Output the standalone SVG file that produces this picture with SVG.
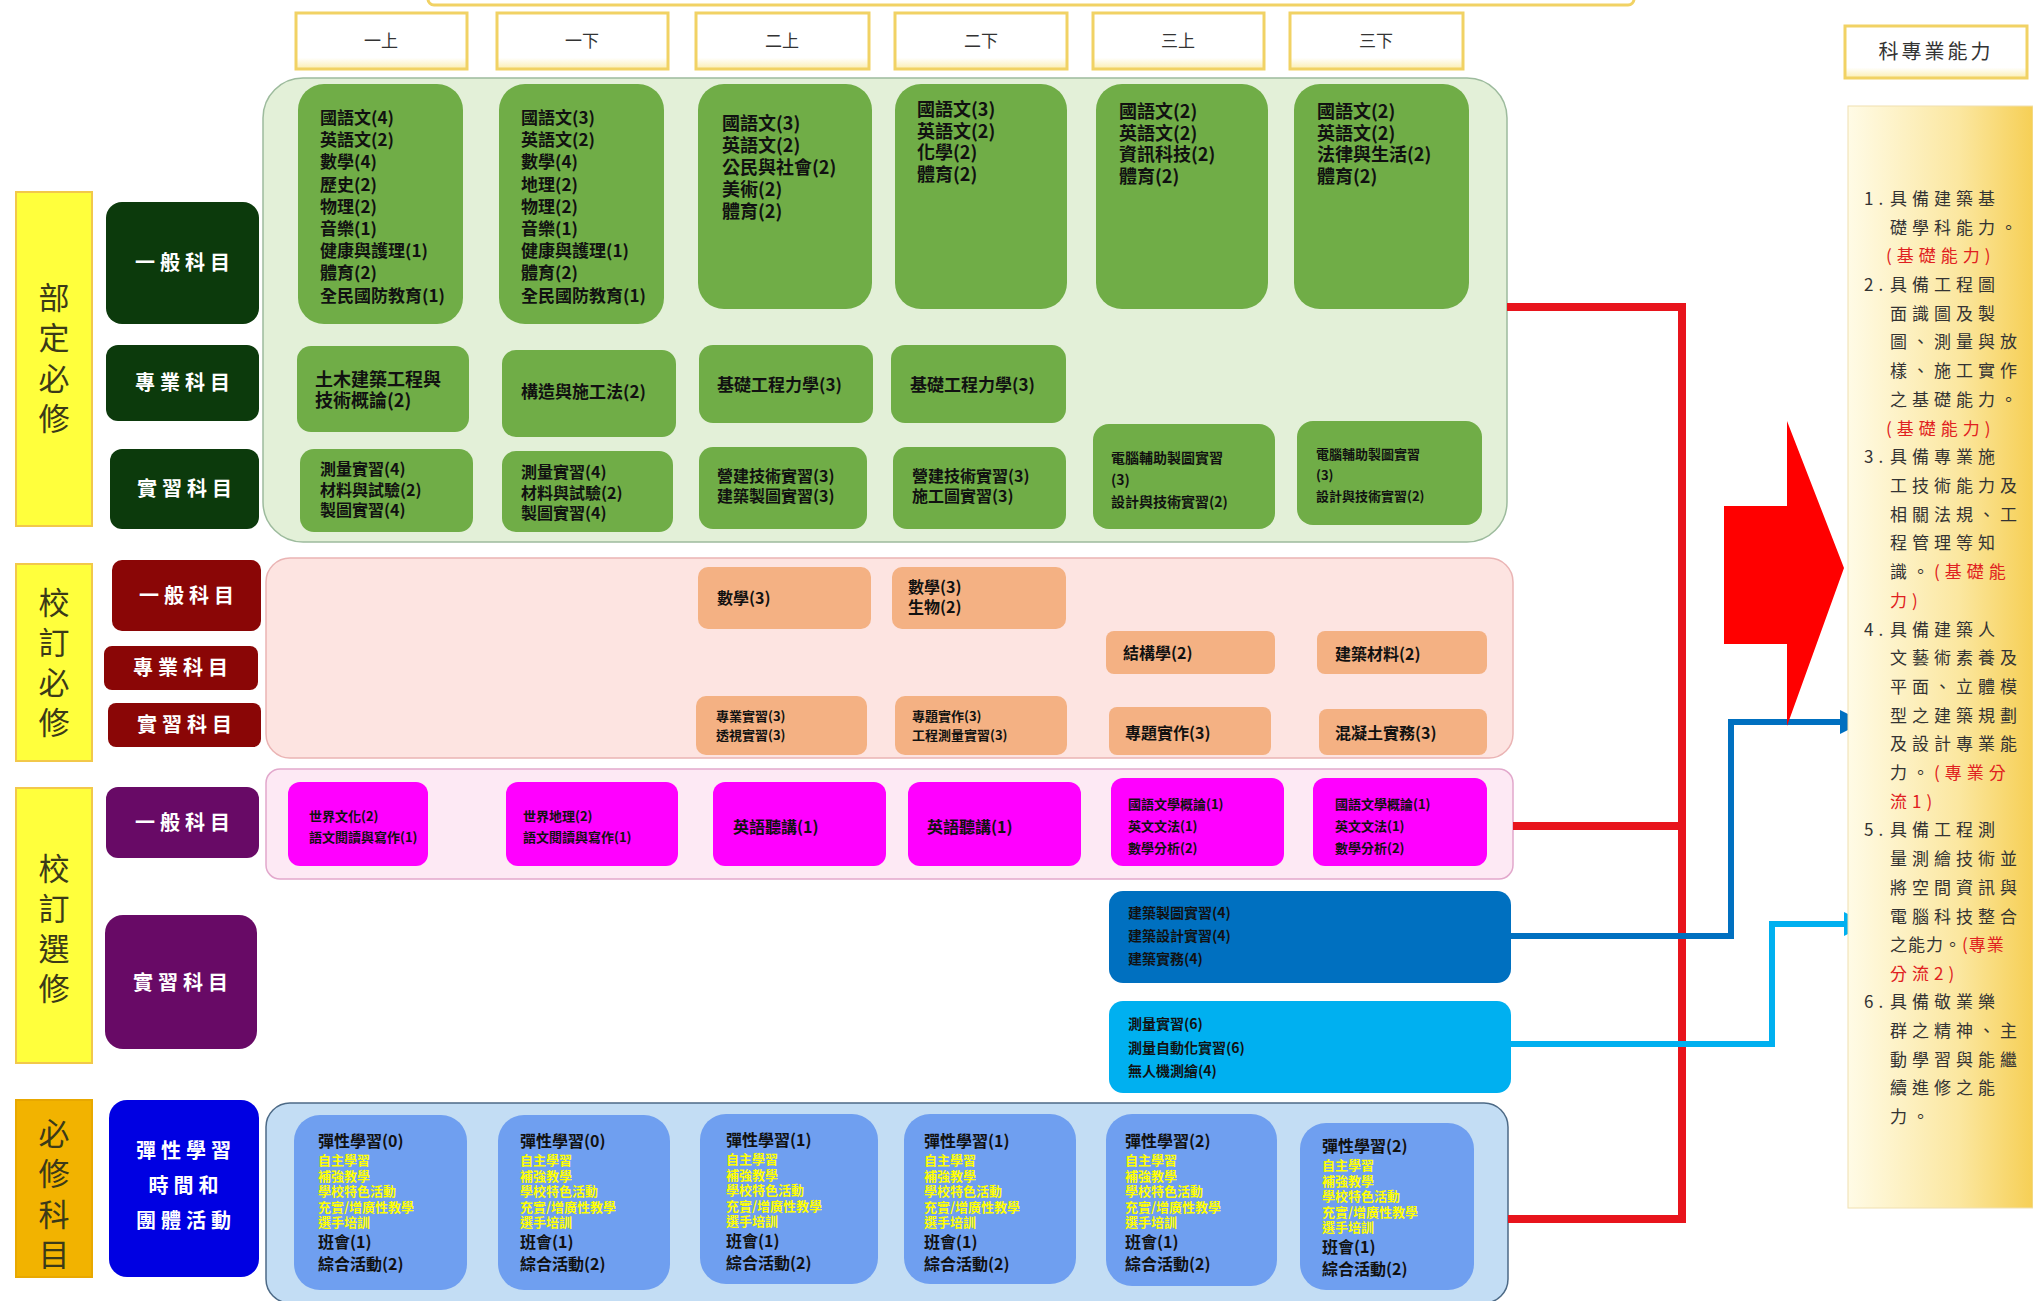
<svg xmlns="http://www.w3.org/2000/svg" width="2033" height="1301" viewBox="0 0 2033 1301">
<defs>
<linearGradient id="gold" x1="0" y1="0" x2="1" y2="0">
<stop offset="0" stop-color="#fffbe6"/>
<stop offset="0.6" stop-color="#fbe7a0"/>
<stop offset="1" stop-color="#f6cf55"/>
</linearGradient>
<linearGradient id="hdr" x1="0" y1="0" x2="0" y2="1">
<stop offset="0" stop-color="#ffffff"/>
<stop offset="0.8" stop-color="#ffffff"/>
<stop offset="1" stop-color="#fbeeb0"/>
</linearGradient>
<marker id="ahDark" markerWidth="4" markerHeight="4" refX="1" refY="2" orient="auto" markerUnits="strokeWidth">
<path d="M0,0 L4,2 L0,4 Z" fill="#0070c0"/>
</marker>
<marker id="ahLight" markerWidth="4" markerHeight="4" refX="1" refY="2" orient="auto" markerUnits="strokeWidth">
<path d="M0,0 L4,2 L0,4 Z" fill="#00b0f0"/>
</marker>
</defs>
<style>
text{font-family:"Noto Sans CJK TC","Noto Sans CJK SC",sans-serif;}
.hdr{fill:url(#hdr);stroke:#f1d264;stroke-width:3;}
.ht{font-size:17px;fill:#333;text-anchor:middle;}
.vt{font-size:31px;fill:#3b3a18;text-anchor:middle;}
.ylw{fill:#ffff3c;stroke:#f2c84b;stroke-width:2;}
.org{fill:#f2b300;stroke:#e8a800;stroke-width:2;}
.lab{font-size:20px;fill:#fff;font-weight:700;text-anchor:middle;letter-spacing:5px;}
.dg{fill:#0c3a0c;}
.dr{fill:#8a0606;}
.pu{fill:#680a66;}
.bl{fill:#0000e2;}
.gbox{fill:#70ad47;}
.obox{fill:#f4b183;}
.mbox{fill:#ff00ff;}
.bbox{fill:#6f9ff0;}
.t{font-size:17px;font-weight:700;fill:#111;}
.t16{font-size:16px;font-weight:700;fill:#111;}
.t14{font-size:14px;font-weight:700;fill:#111;}
.t13{font-size:13px;font-weight:700;fill:#111;}
.y{font-size:13px;font-weight:700;fill:#ffff00;}
.rt{font-size:17px;fill:#333;letter-spacing:5px;}
.red{fill:#e02020;}
</style>

<!-- top partial box -->
<g id="top-box"><rect x="428" y="-30" width="1206" height="35" rx="6" fill="#fff" stroke="#f1d264" stroke-width="3"/></g>

<!-- headers -->
<g id="h1"><rect class="hdr" x="296" y="13" width="171" height="56"/><text class="ht" x="381" y="47">一上</text></g>
<g id="h2"><rect class="hdr" x="497" y="13" width="171" height="56"/><text class="ht" x="582" y="47">一下</text></g>
<g id="h3"><rect class="hdr" x="696" y="13" width="173" height="56"/><text class="ht" x="782" y="47">二上</text></g>
<g id="h4"><rect class="hdr" x="895" y="13" width="172" height="56"/><text class="ht" x="981" y="47">二下</text></g>
<g id="h5"><rect class="hdr" x="1093" y="13" width="171" height="56"/><text class="ht" x="1178" y="47">三上</text></g>
<g id="h6"><rect class="hdr" x="1290" y="13" width="173" height="56"/><text class="ht" x="1376" y="47">三下</text></g>
<g id="h-right"><rect class="hdr" x="1845" y="26" width="182" height="52"/><text class="ht" x="1936" y="59" style="font-size:20px;letter-spacing:3px">科專業能力</text></g>

<!-- left category labels -->
<g id="cat1"><rect class="ylw" x="16" y="192" width="76" height="334"/>
<text class="vt" x="54" y="309">部</text><text class="vt" x="54" y="349">定</text><text class="vt" x="54" y="390">必</text><text class="vt" x="54" y="430">修</text></g>
<g id="cat2"><rect class="ylw" x="16" y="564" width="76" height="197"/>
<text class="vt" x="54" y="614">校</text><text class="vt" x="54" y="654">訂</text><text class="vt" x="54" y="694">必</text><text class="vt" x="54" y="734">修</text></g>
<g id="cat3"><rect class="ylw" x="16" y="788" width="76" height="275"/>
<text class="vt" x="54" y="880">校</text><text class="vt" x="54" y="920">訂</text><text class="vt" x="54" y="960">選</text><text class="vt" x="54" y="1000">修</text></g>
<g id="cat4"><rect class="org" x="16" y="1100" width="76" height="177"/>
<text class="vt" x="54" y="1145">必</text><text class="vt" x="54" y="1185">修</text><text class="vt" x="54" y="1226">科</text><text class="vt" x="54" y="1266">目</text></g>

<!-- sub labels -->
<g id="l1"><rect class="dg" x="106" y="202" width="153" height="122" rx="16"/><text class="lab" x="185" y="270">一般科目</text></g>
<g id="l2"><rect class="dg" x="106" y="345" width="153" height="76" rx="12"/><text class="lab" x="185" y="390">專業科目</text></g>
<g id="l3"><rect class="dg" x="110" y="449" width="149" height="80" rx="12"/><text class="lab" x="187" y="496">實習科目</text></g>
<g id="l4"><rect class="dr" x="112" y="560" width="149" height="71" rx="10"/><text class="lab" x="189" y="603">一般科目</text></g>
<g id="l5"><rect class="dr" x="104" y="646" width="154" height="44" rx="8"/><text class="lab" x="183" y="675">專業科目</text></g>
<g id="l6"><rect class="dr" x="108" y="703" width="153" height="44" rx="8"/><text class="lab" x="187" y="732">實習科目</text></g>
<g id="l7"><rect class="pu" x="106" y="787" width="153" height="71" rx="12"/><text class="lab" x="185" y="830">一般科目</text></g>
<g id="l8"><rect class="pu" x="105" y="915" width="152" height="134" rx="18"/><text class="lab" x="183" y="990">實習科目</text></g>
<g id="l9"><rect class="bl" x="109" y="1100" width="150" height="177" rx="18"/>
<text class="lab" x="186" y="1158">彈性學習</text><text class="lab" x="186" y="1193">時間和</text><text class="lab" x="186" y="1228">團體活動</text></g>

<!-- panels -->
<g id="panel-green"><rect x="263" y="78" width="1244" height="464" rx="40" fill="#e3f0d8" stroke="#9dbb9d" stroke-width="1.5"/></g>
<g id="panel-pink"><rect x="266" y="558" width="1247" height="200" rx="24" fill="#fde4e1" stroke="#eab4b4" stroke-width="1.5"/></g>
<g id="panel-magenta"><rect x="266" y="769" width="1247" height="110" rx="14" fill="#fde9f4" stroke="#e2a8cc" stroke-width="1.5"/></g>
<g id="panel-blue"><rect x="266" y="1103" width="1242" height="200" rx="24" fill="#c3ddf4" stroke="#4d6a86" stroke-width="1.5"/></g>

<!-- general subjects -->
<g id="g11"><rect class="gbox" x="298" y="84" width="165" height="240" rx="26"/>
<text class="t" x="320" y="124"><tspan x="320">國語文(4)</tspan><tspan x="320" dy="22.2">英語文(2)</tspan><tspan x="320" dy="22.2">數學(4)</tspan><tspan x="320" dy="22.2">歷史(2)</tspan><tspan x="320" dy="22.2">物理(2)</tspan><tspan x="320" dy="22.2">音樂(1)</tspan><tspan x="320" dy="22.2">健康與護理(1)</tspan><tspan x="320" dy="22.2">體育(2)</tspan><tspan x="320" dy="22.2">全民國防教育(1)</tspan></text></g>
<g id="g12"><rect class="gbox" x="499" y="84" width="165" height="240" rx="26"/>
<text class="t" x="521" y="124"><tspan x="521">國語文(3)</tspan><tspan x="521" dy="22.2">英語文(2)</tspan><tspan x="521" dy="22.2">數學(4)</tspan><tspan x="521" dy="22.2">地理(2)</tspan><tspan x="521" dy="22.2">物理(2)</tspan><tspan x="521" dy="22.2">音樂(1)</tspan><tspan x="521" dy="22.2">健康與護理(1)</tspan><tspan x="521" dy="22.2">體育(2)</tspan><tspan x="521" dy="22.2">全民國防教育(1)</tspan></text></g>
<g id="g21"><rect class="gbox" x="698" y="84" width="174" height="225" rx="26"/>
<text class="t" x="722" y="130" style="font-size:18px"><tspan x="722">國語文(3)</tspan><tspan x="722" dy="22">英語文(2)</tspan><tspan x="722" dy="22">公民與社會(2)</tspan><tspan x="722" dy="22">美術(2)</tspan><tspan x="722" dy="22">體育(2)</tspan></text></g>
<g id="g22"><rect class="gbox" x="895" y="84" width="172" height="225" rx="26"/>
<text class="t" x="917" y="116" style="font-size:18px"><tspan x="917">國語文(3)</tspan><tspan x="917" dy="21.5">英語文(2)</tspan><tspan x="917" dy="21.5">化學(2)</tspan><tspan x="917" dy="21.5">體育(2)</tspan></text></g>
<g id="g31"><rect class="gbox" x="1096" y="84" width="172" height="225" rx="26"/>
<text class="t" x="1119" y="118" style="font-size:18px"><tspan x="1119">國語文(2)</tspan><tspan x="1119" dy="21.5">英語文(2)</tspan><tspan x="1119" dy="21.5">資訊科技(2)</tspan><tspan x="1119" dy="21.5">體育(2)</tspan></text></g>
<g id="g32"><rect class="gbox" x="1294" y="84" width="175" height="225" rx="26"/>
<text class="t" x="1317" y="118" style="font-size:18px"><tspan x="1317">國語文(2)</tspan><tspan x="1317" dy="21.5">英語文(2)</tspan><tspan x="1317" dy="21.5">法律與生活(2)</tspan><tspan x="1317" dy="21.5">體育(2)</tspan></text></g>

<!-- professional subjects -->
<g id="p11"><rect class="gbox" x="297" y="346" width="172" height="86" rx="14"/>
<text class="t" x="315" y="386" style="font-size:18px"><tspan x="315">土木建築工程與</tspan><tspan x="315" dy="21">技術概論(2)</tspan></text></g>
<g id="p12"><rect class="gbox" x="502" y="350" width="174" height="87" rx="14"/><text class="t" x="521" y="398">構造與施工法(2)</text></g>
<g id="p21"><rect class="gbox" x="699" y="345" width="174" height="78" rx="14"/><text class="t" x="717" y="391">基礎工程力學(3)</text></g>
<g id="p22"><rect class="gbox" x="891" y="345" width="175" height="78" rx="14"/><text class="t" x="910" y="391">基礎工程力學(3)</text></g>

<!-- practice subjects -->
<g id="s11"><rect class="gbox" x="300" y="449" width="173" height="83" rx="14"/>
<text class="t16" x="320" y="475"><tspan x="320">測量實習(4)</tspan><tspan x="320" dy="20.5">材料與試驗(2)</tspan><tspan x="320" dy="20.5">製圖實習(4)</tspan></text></g>
<g id="s12"><rect class="gbox" x="502" y="451" width="171" height="81" rx="14"/>
<text class="t16" x="521" y="478"><tspan x="521">測量實習(4)</tspan><tspan x="521" dy="20.5">材料與試驗(2)</tspan><tspan x="521" dy="20.5">製圖實習(4)</tspan></text></g>
<g id="s21"><rect class="gbox" x="699" y="447" width="168" height="82" rx="14"/>
<text class="t16" x="717" y="482"><tspan x="717">營建技術實習(3)</tspan><tspan x="717" dy="20">建築製圖實習(3)</tspan></text></g>
<g id="s22"><rect class="gbox" x="893" y="447" width="173" height="82" rx="14"/>
<text class="t16" x="912" y="482"><tspan x="912">營建技術實習(3)</tspan><tspan x="912" dy="20">施工圖實習(3)</tspan></text></g>
<g id="s31"><rect class="gbox" x="1093" y="424" width="182" height="105" rx="16"/>
<text class="t14" x="1111" y="463"><tspan x="1111">電腦輔助製圖實習</tspan><tspan x="1111" dy="22">(3)</tspan><tspan x="1111" dy="22">設計與技術實習(2)</tspan></text></g>
<g id="s32"><rect class="gbox" x="1297" y="421" width="185" height="104" rx="16"/>
<text class="t13" x="1316" y="459"><tspan x="1316">電腦輔助製圖實習</tspan><tspan x="1316" dy="21">(3)</tspan><tspan x="1316" dy="21">設計與技術實習(2)</tspan></text></g>

<!-- school required -->
<g id="r21"><rect class="obox" x="698" y="567" width="173" height="62" rx="10"/><text class="t16" x="717" y="604">數學(3)</text></g>
<g id="r22"><rect class="obox" x="892" y="567" width="174" height="62" rx="10"/>
<text class="t16" x="908" y="593"><tspan x="908">數學(3)</tspan><tspan x="908" dy="20">生物(2)</tspan></text></g>
<g id="r31"><rect class="obox" x="1106" y="631" width="169" height="43" rx="8"/><text class="t16" x="1123" y="659">結構學(2)</text></g>
<g id="r32"><rect class="obox" x="1317" y="631" width="170" height="43" rx="8"/><text class="t16" x="1335" y="660">建築材料(2)</text></g>
<g id="r21b"><rect class="obox" x="696" y="696" width="171" height="59" rx="10"/>
<text class="t13" x="716" y="721"><tspan x="716">專業實習(3)</tspan><tspan x="716" dy="19">透視實習(3)</tspan></text></g>
<g id="r22b"><rect class="obox" x="895" y="696" width="172" height="59" rx="10"/>
<text class="t13" x="912" y="721"><tspan x="912">專題實作(3)</tspan><tspan x="912" dy="19">工程測量實習(3)</tspan></text></g>
<g id="r31b"><rect class="obox" x="1109" y="707" width="162" height="48" rx="8"/><text class="t16" x="1125" y="739">專題實作(3)</text></g>
<g id="r32b"><rect class="obox" x="1319" y="709" width="168" height="46" rx="8"/><text class="t16" x="1335" y="739">混凝土實務(3)</text></g>

<!-- school electives general -->
<g id="e11"><rect class="mbox" x="288" y="782" width="140" height="84" rx="12"/>
<text class="t13" x="309" y="821"><tspan x="309">世界文化(2)</tspan><tspan x="309" dy="21">語文閱讀與寫作(1)</tspan></text></g>
<g id="e12"><rect class="mbox" x="506" y="782" width="172" height="84" rx="12"/>
<text class="t13" x="523" y="821"><tspan x="523">世界地理(2)</tspan><tspan x="523" dy="21">語文閱讀與寫作(1)</tspan></text></g>
<g id="e21"><rect class="mbox" x="713" y="782" width="173" height="84" rx="12"/><text class="t16" x="733" y="833">英語聽講(1)</text></g>
<g id="e22"><rect class="mbox" x="908" y="782" width="173" height="84" rx="12"/><text class="t16" x="927" y="833">英語聽講(1)</text></g>
<g id="e31"><rect class="mbox" x="1111" y="778" width="173" height="88" rx="12"/>
<text class="t13" x="1128" y="809"><tspan x="1128">國語文學概論(1)</tspan><tspan x="1128" dy="22">英文文法(1)</tspan><tspan x="1128" dy="22">數學分析(2)</tspan></text></g>
<g id="e32"><rect class="mbox" x="1313" y="778" width="174" height="88" rx="12"/>
<text class="t13" x="1335" y="809"><tspan x="1335">國語文學概論(1)</tspan><tspan x="1335" dy="22">英文文法(1)</tspan><tspan x="1335" dy="22">數學分析(2)</tspan></text></g>

<!-- school electives practice -->
<g id="x1"><rect x="1109" y="891" width="402" height="92" rx="14" fill="#0070c0"/>
<text class="t14" x="1128" y="918"><tspan x="1128">建築製圖實習(4)</tspan><tspan x="1128" dy="23">建築設計實習(4)</tspan><tspan x="1128" dy="23">建築實務(4)</tspan></text></g>
<g id="x2"><rect x="1109" y="1001" width="402" height="92" rx="14" fill="#00b0f0"/>
<text class="t14" x="1128" y="1029"><tspan x="1128">測量實習(6)</tspan><tspan x="1128" dy="23.5">測量自動化實習(6)</tspan><tspan x="1128" dy="23.5">無人機測繪(4)</tspan></text></g>

<!-- flexible learning -->
<g id="f11"><rect class="bbox" x="294" y="1115" width="173" height="175" rx="26"/>
<text x="318" y="1147"><tspan class="t16" x="318">彈性學習(0)</tspan><tspan class="y" x="318" dy="18">自主學習</tspan><tspan class="y" x="318" dy="15.5">補強教學</tspan><tspan class="y" x="318" dy="15.5">學校特色活動</tspan><tspan class="y" x="318" dy="15.5">充實/增廣性教學</tspan><tspan class="y" x="318" dy="15.5">選手培訓</tspan><tspan class="t16" x="318" dy="21">班會(1)</tspan><tspan class="t16" x="318" dy="22">綜合活動(2)</tspan></text></g>
<g id="f12"><rect class="bbox" x="498" y="1115" width="172" height="175" rx="26"/>
<text x="520" y="1147"><tspan class="t16" x="520">彈性學習(0)</tspan><tspan class="y" x="520" dy="18">自主學習</tspan><tspan class="y" x="520" dy="15.5">補強教學</tspan><tspan class="y" x="520" dy="15.5">學校特色活動</tspan><tspan class="y" x="520" dy="15.5">充實/增廣性教學</tspan><tspan class="y" x="520" dy="15.5">選手培訓</tspan><tspan class="t16" x="520" dy="21">班會(1)</tspan><tspan class="t16" x="520" dy="22">綜合活動(2)</tspan></text></g>
<g id="f21"><rect class="bbox" x="700" y="1114" width="178" height="170" rx="26"/>
<text x="726" y="1146"><tspan class="t16" x="726">彈性學習(1)</tspan><tspan class="y" x="726" dy="18">自主學習</tspan><tspan class="y" x="726" dy="15.5">補強教學</tspan><tspan class="y" x="726" dy="15.5">學校特色活動</tspan><tspan class="y" x="726" dy="15.5">充實/增廣性教學</tspan><tspan class="y" x="726" dy="15.5">選手培訓</tspan><tspan class="t16" x="726" dy="21">班會(1)</tspan><tspan class="t16" x="726" dy="22">綜合活動(2)</tspan></text></g>
<g id="f22"><rect class="bbox" x="904" y="1114" width="172" height="170" rx="26"/>
<text x="924" y="1147"><tspan class="t16" x="924">彈性學習(1)</tspan><tspan class="y" x="924" dy="18">自主學習</tspan><tspan class="y" x="924" dy="15.5">補強教學</tspan><tspan class="y" x="924" dy="15.5">學校特色活動</tspan><tspan class="y" x="924" dy="15.5">充實/增廣性教學</tspan><tspan class="y" x="924" dy="15.5">選手培訓</tspan><tspan class="t16" x="924" dy="21">班會(1)</tspan><tspan class="t16" x="924" dy="22">綜合活動(2)</tspan></text></g>
<g id="f31"><rect class="bbox" x="1106" y="1114" width="171" height="172" rx="26"/>
<text x="1125" y="1147"><tspan class="t16" x="1125">彈性學習(2)</tspan><tspan class="y" x="1125" dy="18">自主學習</tspan><tspan class="y" x="1125" dy="15.5">補強教學</tspan><tspan class="y" x="1125" dy="15.5">學校特色活動</tspan><tspan class="y" x="1125" dy="15.5">充實/增廣性教學</tspan><tspan class="y" x="1125" dy="15.5">選手培訓</tspan><tspan class="t16" x="1125" dy="21">班會(1)</tspan><tspan class="t16" x="1125" dy="22">綜合活動(2)</tspan></text></g>
<g id="f32"><rect class="bbox" x="1300" y="1123" width="174" height="167" rx="26"/>
<text x="1322" y="1152"><tspan class="t16" x="1322">彈性學習(2)</tspan><tspan class="y" x="1322" dy="18">自主學習</tspan><tspan class="y" x="1322" dy="15.5">補強教學</tspan><tspan class="y" x="1322" dy="15.5">學校特色活動</tspan><tspan class="y" x="1322" dy="15.5">充實/增廣性教學</tspan><tspan class="y" x="1322" dy="15.5">選手培訓</tspan><tspan class="t16" x="1322" dy="21">班會(1)</tspan><tspan class="t16" x="1322" dy="22">綜合活動(2)</tspan></text></g>

<!-- connectors -->
<g id="connectors" fill="none">
<path d="M1507,307 H1682 V1219 H1508" stroke="#e8141c" stroke-width="8"/>
<path d="M1513,826 H1682" stroke="#e8141c" stroke-width="8"/>
<path d="M1511,936 H1731 V722 H1846" stroke="#0070c0" stroke-width="6" marker-end="url(#ahDark)"/>
<path d="M1511,1044 H1772 V924 H1850" stroke="#00b0f0" stroke-width="6" marker-end="url(#ahLight)"/>
<path d="M1724,506 H1787 V421 L1844,568 L1787,726 V644 H1724 Z" fill="#ff0000" stroke="none"/>
</g>

<!-- right panel -->
<g id="abilities"><rect x="1848" y="106" width="185" height="1102" fill="url(#gold)" stroke="#f0e0b0" stroke-width="1"/>
<text class="rt" x="1864" y="205">1.<tspan x="1890">具備建築基</tspan></text>
<text class="rt" x="1890" y="234">礎學科能力。</text>
<text class="rt red" x="1886" y="262">(基礎能力)</text>
<text class="rt" x="1864" y="291">2.<tspan x="1890">具備工程圖</tspan></text>
<text class="rt" x="1890" y="320">面識圖及製</text>
<text class="rt" x="1890" y="348">圖、測量與放</text>
<text class="rt" x="1890" y="377">樣、施工實作</text>
<text class="rt" x="1890" y="406">之基礎能力。</text>
<text class="rt red" x="1886" y="435">(基礎能力)</text>
<text class="rt" x="1864" y="463">3.<tspan x="1890">具備專業施</tspan></text>
<text class="rt" x="1890" y="492">工技術能力及</text>
<text class="rt" x="1890" y="521">相關法規、工</text>
<text class="rt" x="1890" y="549">程管理等知</text>
<text class="rt" x="1890" y="578">識。<tspan class="red">(基礎能</tspan></text>
<text class="rt red" x="1890" y="607">力)</text>
<text class="rt" x="1864" y="636">4.<tspan x="1890">具備建築人</tspan></text>
<text class="rt" x="1890" y="664">文藝術素養及</text>
<text class="rt" x="1890" y="693">平面、立體模</text>
<text class="rt" x="1890" y="722">型之建築規劃</text>
<text class="rt" x="1890" y="750">及設計專業能</text>
<text class="rt" x="1890" y="779">力。<tspan class="red">(專業分</tspan></text>
<text class="rt red" x="1890" y="808">流1)</text>
<text class="rt" x="1864" y="836">5.<tspan x="1890">具備工程測</tspan></text>
<text class="rt" x="1890" y="865">量測繪技術並</text>
<text class="rt" x="1890" y="894">將空間資訊與</text>
<text class="rt" x="1890" y="923">電腦科技整合</text>
<text class="rt" x="1890" y="951" style="letter-spacing:1px">之能力。<tspan class="red">(專業</tspan></text>
<text class="rt red" x="1890" y="980">分流2)</text>
<text class="rt" x="1864" y="1008">6.<tspan x="1890">具備敬業樂</tspan></text>
<text class="rt" x="1890" y="1037">群之精神、主</text>
<text class="rt" x="1890" y="1066">動學習與能繼</text>
<text class="rt" x="1890" y="1094">續進修之能</text>
<text class="rt" x="1890" y="1123">力。</text>
</g>
</svg>
